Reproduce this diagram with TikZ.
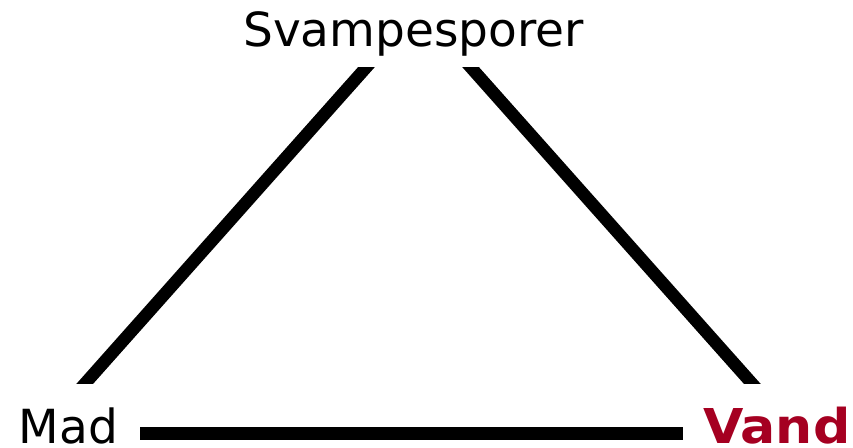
\documentclass[tikz,border=0pt]{standalone}
\usepackage{fontspec}
\usetikzlibrary{calc}
\setmainfont{DejaVu Sans}
\definecolor{vandred}{RGB}{165,0,33}
\begin{document}
\begin{tikzpicture}[x=1pt,y=-1pt,
  lbl/.style={inner sep=0pt, font=\fontsize{47}{50}\selectfont},
  bar/.style={line width=12.5pt, line cap=butt, black}]
\useasboundingbox (0,0) rectangle (853,447);
\node[lbl, anchor=base] (top) at (413.5,46) {Svampesporer};
\node[lbl, anchor=base west, text depth=0pt] (mad) at (18.5,443) {Mad};
\node[lbl, anchor=base east, text depth=0pt, text=vandred, font=\fontsize{48}{50}\selectfont\bfseries] (vand) at (850.5,443) {\scalebox{1.087}[1]{Vand}};
\coordinate (tl) at (366.5,67);
\coordinate (bl) at (85.5,383);
\coordinate (tr) at (470.5,67);
\coordinate (br) at (751.5,383);
\coordinate (ml) at (140,433.5);
\coordinate (mr) at (683,433.5);
\begin{scope}
  \clip (0,67) rectangle (853,383);
  \draw[bar] ($(tl)!-0.1!(bl)$) -- ($(bl)!-0.1!(tl)$);
  \draw[bar] ($(tr)!-0.1!(br)$) -- ($(br)!-0.1!(tr)$);
\end{scope}
\draw[bar, line width=13pt] (ml) -- (mr);
\end{tikzpicture}
\end{document}
